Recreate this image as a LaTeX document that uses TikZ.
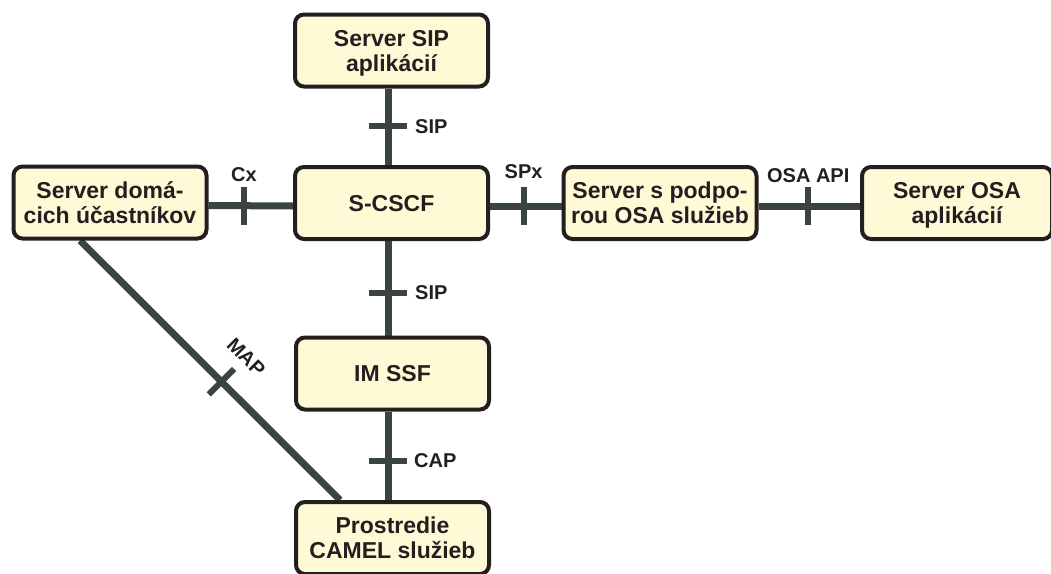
\documentclass[tikz,border=0pt]{standalone}
\usepackage{fontspec}
\setmainfont{Liberation Sans}
\usetikzlibrary{calc,backgrounds}
\definecolor{boxfill}{HTML}{FFF9D6}
\definecolor{boxline}{HTML}{231F20}
\definecolor{connline}{HTML}{3A4542}
\definecolor{txt}{HTML}{231F20}
\begin{document}
\begin{tikzpicture}[x=1pt,y=-1pt,
 box/.style={draw=boxline, line width=4pt, fill=boxfill, rounded corners=9pt,
   minimum width=193pt, minimum height=72pt, align=center, inner sep=0pt,
   text=txt, font=\fontsize{23}{25}\selectfont\bfseries,
   text height=16.5pt, text depth=0pt},
 twoline/.style={text height=41.5pt, text depth=0pt},
 conn/.style={draw=connline, line width=7pt},
 tickmark/.style={draw=connline, line width=6pt},
 lbl/.style={text=txt, font=\fontsize{20}{22}\selectfont\bfseries, inner sep=0pt}]
\useasboundingbox (0,0) rectangle (1051,573);
\node[box, twoline] (sip) at (391.5,50.5) {Server SIP\\aplikácií};
\node[box, twoline] (hss) at (110,202.5) {Server domá-\\cich účastníkov};
\node[box] (scscf) at (391.5,203) {S-CSCF};
\node[box, twoline] (osas) at (660,203) {Server s podpo-\\rou OSA služieb};
\node[box, twoline, minimum width=190pt] (osa) at (957,203) {Server OSA\\aplikácií};
\node[box] (imssf) at (392.5,373.5) {IM SSF};
\node[box, twoline] (camel) at (392.5,538) {Prostredie\\CAMEL služieb};

\begin{scope}[on background layer]
 % vertical connectors
 \draw[conn] ([xshift=-3.5pt]sip.south) -- coordinate[pos=0.494] (t1) ([xshift=-3.5pt]scscf.north);
 \draw[conn] ([xshift=-3.5pt]scscf.south) -- coordinate[pos=0.55] (t2) ([xshift=-4.5pt]imssf.north);
 \draw[conn] ([xshift=-4.5pt]imssf.south) -- coordinate[pos=0.554] (t3) ([xshift=-4.5pt]camel.north);
 % horizontal connectors
 \draw[conn] ([yshift=-3pt]hss.east) -- coordinate[pos=0.42] (t4) ([yshift=-3pt]scscf.west);
 \draw[conn] ([yshift=-3pt]scscf.east) -- coordinate[pos=0.47] (t5) ([yshift=-3pt]osas.west);
 \draw[conn] ([yshift=-3pt]osas.east) -- coordinate[pos=0.49] (t6) ([yshift=-3pt]osa.west);
 % diagonal connector
 \coordinate (d1) at ([xshift=-30pt]hss.south);
 \coordinate (d2) at ([xshift=-52.5pt]camel.north);
 \draw[conn] (d1) -- coordinate[pos=0.544] (t7) (d2);
\end{scope}

% ticks
\foreach \t in {t1,t2,t3} \draw[tickmark] ([xshift=-19pt]\t) -- ([xshift=19pt]\t);
\foreach \t in {t4,t5,t6} \draw[tickmark] ([yshift=-19pt]\t) -- ([yshift=19pt]\t);
\draw[tickmark] ($(t7)!18pt!90:(d2)$) -- ($(t7)!18pt!-90:(d2)$);

% labels
\node[lbl, anchor=west] (l1) at ([xshift=27pt]t1) {SIP};
\node[lbl, anchor=west] (l2) at ([xshift=27pt]t2) {SIP};
\node[lbl, anchor=west] (l3) at ([xshift=26pt]t3) {CAP};
\node[lbl, anchor=base] (l4) at ([yshift=24pt]t4) {Cx};
\node[lbl, anchor=base] (l5) at ([yshift=28pt]t5) {SPx};
\node[lbl, anchor=base] (l6) at ([yshift=24pt]t6) {OSA API};
\node[lbl, rotate=-45] (l7) at ($(t7)!35pt!90:(d2)$) {MAP};
\end{tikzpicture}
\end{document}
